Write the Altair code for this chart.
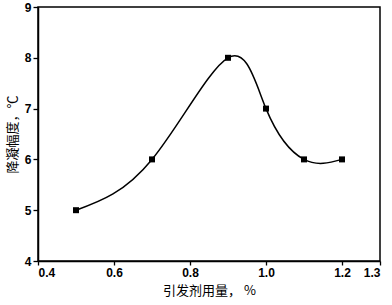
import altair as alt
import pandas as pd

dose = [0.5, 0.7, 0.9, 1.0, 1.1, 1.2]
drop = [5, 6, 8, 7, 6, 6]
x_ticks = [0.4, 0.6, 0.8, 1.0, 1.2, 1.3]
y_ticks = [4, 4.5, 5, 5.5, 6, 6.5, 7, 7.5, 8, 8.5, 9]

df = pd.DataFrame({"x": dose, "y": drop})

x_enc = alt.X("x:Q", scale=alt.Scale(domain=[0.4, 1.3], nice=False, zero=False),
              axis=alt.Axis(values=x_ticks, format=".1f", title="引发剂用量，  %",
                            grid=False, tickSize=4, labelPadding=2, titlePadding=6))
y_enc = alt.Y("y:Q", scale=alt.Scale(domain=[4, 9], nice=False, zero=False),
              axis=alt.Axis(values=y_ticks, title="降凝幅度，℃",
                            labelExpr="datum.value % 1 === 0 ? datum.label : ''",
                            tickSize={"expr": "datum.value % 1 === 0 ? 5 : 3"},
                            grid=False, labelPadding=2, titlePadding=5))

line = alt.Chart(df).mark_line(interpolate="natural", color="black", strokeWidth=1.5).encode(x=x_enc, y=y_enc)
pts = alt.Chart(df).mark_square(color="black", opacity=1, size=36).encode(x="x:Q", y="y:Q")

chart = (line + pts).properties(
    width=342, height=254,
    autosize=alt.AutoSizeParams(type="none"),
    padding={"left": 38, "top": 7, "right": 12, "bottom": 44},
    background="white",
).configure_view(stroke="black", strokeWidth=1.5).configure_axis(
    domainColor="black", domainWidth=1.5, tickColor="black", tickWidth=1.3,
    labelFont="Liberation Sans", labelFontWeight="bold", labelFontSize=12, labelColor="black",
    titleFont="Noto Sans CJK SC", titleFontWeight="normal", titleFontSize=13, titleColor="black",
)

chart.save("out.html", embed_options={"renderer": "svg", "actions": False})
